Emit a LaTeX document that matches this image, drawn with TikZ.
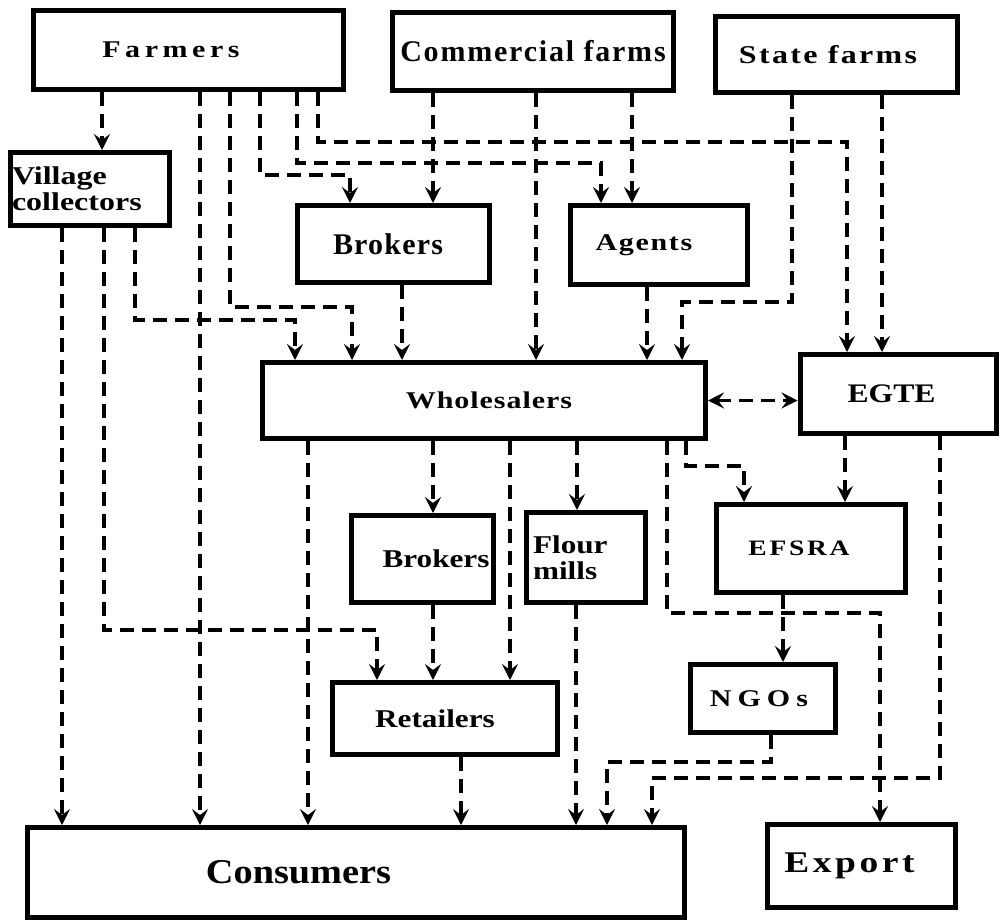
\documentclass[tikz,border=0pt]{standalone}
\usepackage{fontspec}
\setmainfont{Liberation Serif}
\usetikzlibrary{arrows.meta}

\begin{document}
\begin{tikzpicture}[x=0.5pt,y=-0.5pt]
		\tikzset{box/.style = {draw, line width=2.5pt, inner sep=0pt},
			edge/.style = {->,> = {Stealth[length=8pt, width=8pt, inset=3pt]}, line width=1.6pt, dash pattern=on 7pt off 4pt},
			txt/.style n args = {3}{font=\bfseries\fontsize{#1}{#1}\selectfont\addfontfeatures{LetterSpace=#2,FakeStretch=#3}},
			nudge/.style = {execute at begin node={\kern#1}}}
		\useasboundingbox (0,0) rectangle (1003,923);
		\node[box, minimum width=155pt, minimum height=39.5pt, txt={12}{19}{1.25}, nudge=-17pt] (farmers) at (188,50) {Farmers};
		\node[box, minimum width=140.5pt, minimum height=39pt, txt={15}{6}{1}] (commercial) at (533,51.5) {Commercial farms};
		\node[box, minimum width=121pt, minimum height=38pt, txt={12.8}{9}{1.25}, nudge=-8pt] (state) at (836,54.5) {State farms};
		\node[box, minimum width=79.5pt, minimum height=36.5pt, txt={12.8}{0}{1.25}, align=left, text width=78pt, inner xsep=0.75pt] (vc) at (90,189) {Village\\collectors};
		\node[box, minimum width=96pt, minimum height=38.5pt, txt={15}{4}{1}, nudge=-5pt] (brokersA) at (393,244) {Brokers};
		\node[box, minimum width=88.5pt, minimum height=39.5pt, txt={12}{7}{1.25}, nudge=-15pt] (agents) at (659,245) {Agents};
		\node[box, minimum width=221.5pt, minimum height=38pt, txt={12}{4}{1.25}, nudge=5pt] (wholesalers) at (484,400.5) {Wholesalers};
		\node[box, minimum width=98pt, minimum height=39.5pt, txt={13.4}{0}{1.18}, nudge=-6.5pt] (egte) at (898,394) {EGTE};
		\node[box, minimum width=71pt, minimum height=43.5pt, txt={12.8}{0}{1.22}, nudge=13.5pt] (brokersB) at (422.5,559) {Brokers};
		\node[box, minimum width=59.5pt, minimum height=45pt, txt={12.8}{0}{1.22}, align=left, text width=53pt, inner xsep=3.25pt] (flour) at (586,557.5) {Flour\\mills};
		\node[box, minimum width=94.5pt, minimum height=44pt, txt={11}{12.5}{1.25}, nudge=-12pt] (efsra) at (811,548.5) {EFSRA};
		\node[box, minimum width=112.5pt, minimum height=36pt, txt={12.8}{0}{1.22}, nudge=-10pt] (retailers) at (445,718.5) {Retailers};
		\node[box, minimum width=72.5pt, minimum height=34pt, txt={12}{25}{1.25}, nudge=-4pt] (ngos) at (763,698.5) {NGOs};
		\node[box, minimum width=328.5pt, minimum height=45pt, txt={17.4}{0}{1.1}, nudge=-57.5pt] (consumers) at (356,872.5) {Consumers};
		\node[box, minimum width=94pt, minimum height=41.5pt, txt={15}{12}{1.25}, nudge=-12pt] (export) at (861.5,866) {Export};
		\draw[edge] ([xshift=-43pt]farmers.south) -- ([xshift=6pt]vc.north);
		\draw[edge] ([xshift=6pt]farmers.south) -- ([xshift=-78pt]consumers.north);
		\draw[edge] ([xshift=21pt]farmers.south) -- ++(0,215) -| ([xshift=-66pt]wholesalers.north);
		\draw[edge] ([xshift=36pt]farmers.south) -- ++(0,83) -| ([xshift=-21.5pt]brokersA.north);
		\draw[edge] ([xshift=54.5pt]farmers.south) -- ++(0,71) -| ([xshift=-29pt]agents.north);
		\draw[edge] ([xshift=65pt]farmers.south) -- ++(0,50) -| ([xshift=-25.5pt]egte.north);
		\draw[edge] ([xshift=-50pt]commercial.south) -- ([xshift=20pt]brokersA.north);
		\draw[edge] ([xshift=1.5pt]commercial.south) -- ([xshift=26pt]wholesalers.north);
		\draw[edge] ([xshift=49.5pt]commercial.south) -- ([xshift=-13.5pt]agents.north);
		\draw[edge] ([xshift=-22pt]state.south) -- ++(0,207) -| ([xshift=99pt]wholesalers.north);
		\draw[edge] ([xshift=23pt]state.south) -- ([xshift=-8pt]egte.north);
		\draw[edge] ([xshift=4.5pt]brokersA.south) -- ([xshift=-41pt]wholesalers.north);
		\draw[edge] ([xshift=-6pt]agents.south) -- ([xshift=81.5pt]wholesalers.north);
		\draw[edge] ([xshift=-14pt]vc.south) -- ([xshift=-147pt]consumers.north);
		\draw[edge] ([xshift=7pt]vc.south) -- ++(0,402) -| ([xshift=-34pt]retailers.north);
		\draw[edge] ([xshift=22.5pt]vc.south) -- ++(0,92) -| ([xshift=-94.5pt]wholesalers.north);
		\draw[edge, <->] (wholesalers.east) -- (wholesalers.east -| egte.west);
		\draw[edge] ([xshift=-88pt]wholesalers.south) -- ([xshift=-24pt]consumers.north);
		\draw[edge] ([xshift=-25.5pt]wholesalers.south) -- ([xshift=5.25pt]brokersB.north);
		\draw[edge] ([xshift=13pt]wholesalers.south) -- ([xshift=32.5pt]retailers.north);
		\draw[edge] ([xshift=46.5pt]wholesalers.south) -- ([xshift=-4.5pt]flour.north);
		\draw[edge] ([xshift=91.5pt]wholesalers.south) -- ++(0,172) -| ([xshift=9.25pt]export.north);
		\draw[edge] ([xshift=101pt]wholesalers.south) -- ++(0,25) -| ([xshift=-33.5pt]efsra.north);
		\draw[edge] ([xshift=-26.5pt]egte.south) -- ([xshift=17pt]efsra.north);
		\draw[edge] ([xshift=21pt]egte.south) -- ++(0,342) -| ([xshift=148pt]consumers.north);
		\draw[edge] ([xshift=-14pt]efsra.south) -- ([xshift=10pt]ngos.north);
		\draw[edge] ([xshift=4pt]ngos.south) -- ++(0,27) -| ([xshift=125.5pt]consumers.north);
		\draw[edge] ([xshift=-5pt]flour.south) -- ([xshift=110pt]consumers.north);
		\draw[edge] ([xshift=5.25pt]brokersB.south) -- ([xshift=-6pt]retailers.north);
		\draw[edge] ([xshift=8pt]retailers.south) -- ([xshift=52.5pt]consumers.north);
	\end{tikzpicture}
\end{document}
